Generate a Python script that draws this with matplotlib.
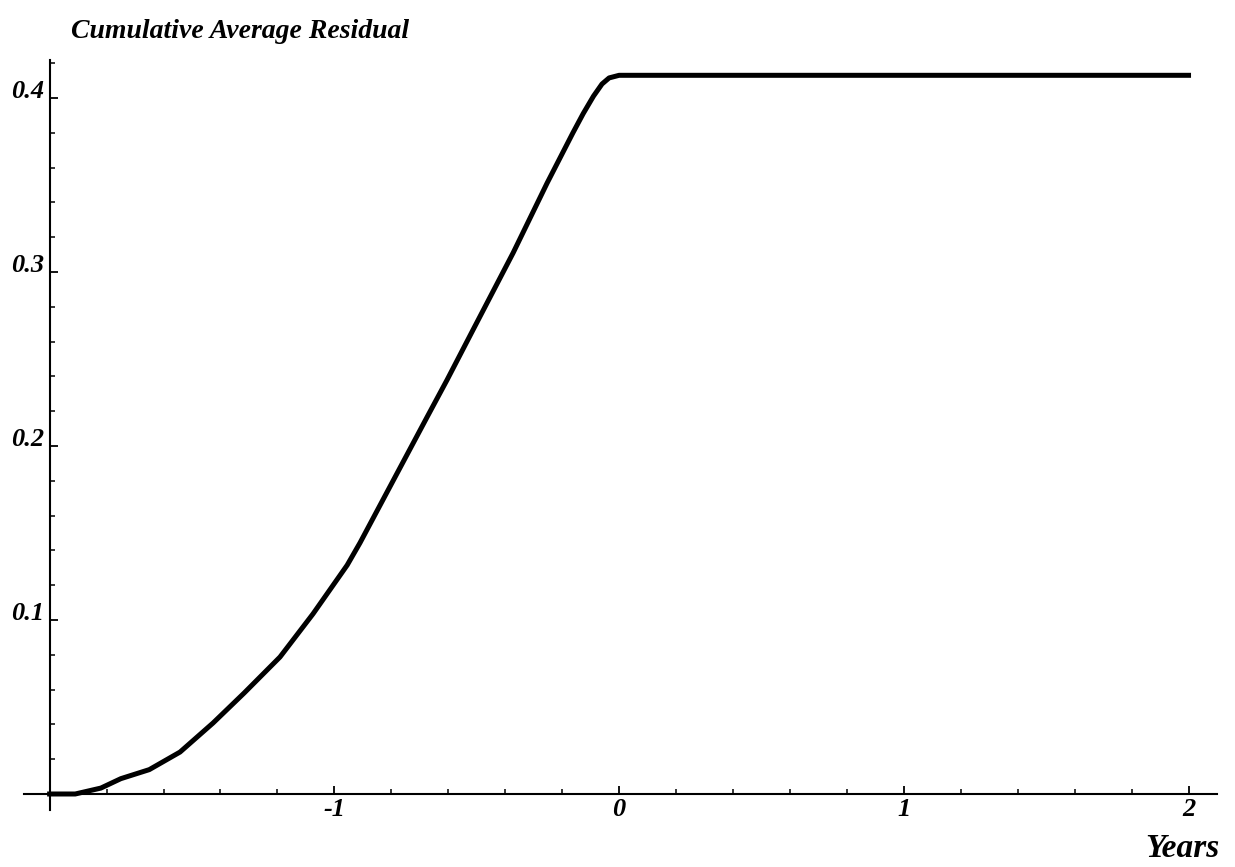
import matplotlib
matplotlib.use("Agg")
import matplotlib.pyplot as plt
from matplotlib.ticker import MultipleLocator

# values
years = [-2.0, -1.91, -1.82, -1.75, -1.65, -1.542, -1.426, -1.317, -1.191,
         -1.075, -0.955, -0.91, -0.794, -0.674, -0.604, -0.513, -0.372,
         -0.253, -0.162, -0.126, -0.09, -0.06, -0.035, 0.0, 2.0]
car = [0.0, 0.0, 0.0034, 0.0088, 0.014, 0.0241, 0.0408, 0.058, 0.0787,
       0.1035, 0.1315, 0.1443, 0.1799, 0.2167, 0.238, 0.2667, 0.311,
       0.351, 0.380, 0.391, 0.401, 0.408, 0.4115, 0.413, 0.413]
xticks = [-1, 0, 1, 2]
yticks = [0.1, 0.2, 0.3, 0.4]

serif = ["Liberation Serif", "DejaVu Serif"]

fig = plt.figure(figsize=(12.35, 8.67), dpi=100)
ax = fig.add_axes([24/1235, 57/867, (1217-24)/1235, (810-60)/867])

ax.plot(years, car, color="black", lw=3.6, solid_joinstyle="round", clip_on=False)

ax.set_xlim(-2.09, 2.1)
ax.set_ylim(-0.0092, 0.4218)

for s in ["top", "right"]:
    ax.spines[s].set_visible(False)
ax.spines["left"].set_position(("data", -2))
ax.spines["bottom"].set_position(("data", 0))
ax.spines["left"].set_linewidth(1.5)
ax.spines["bottom"].set_linewidth(1.5)

ax.set_xticks(xticks)
ax.set_xticklabels([str(t) for t in xticks])
ax.set_yticks(yticks)
ax.set_yticklabels([f"{t:.1f}" for t in yticks])
ax.xaxis.set_minor_locator(MultipleLocator(0.2))
ax.yaxis.set_minor_locator(MultipleLocator(0.02))
ax.tick_params(which="major", direction="in", length=6, width=1.3, pad=3)
ax.tick_params(which="minor", direction="in", length=3.5, width=1.1)
ax.tick_params(axis="y", pad=4)

for lab in ax.get_xticklabels() + ax.get_yticklabels():
    lab.set_fontfamily(serif)
    lab.set_fontstyle("italic")
    lab.set_fontweight("bold")
    lab.set_fontsize(19)
for lab in ax.get_yticklabels():
    lab.set_va("baseline")

fig.text(71/1235, 1 - 38/867, "Cumulative Average Residual", family=serif,
         style="italic", weight="bold", fontsize=20, ha="left", va="baseline")
fig.text(1220/1235, 1 - 857/867, "Years", family=serif,
         style="italic", weight="bold", fontsize=24, ha="right", va="baseline")

fig.savefig("out.png", dpi=100)
